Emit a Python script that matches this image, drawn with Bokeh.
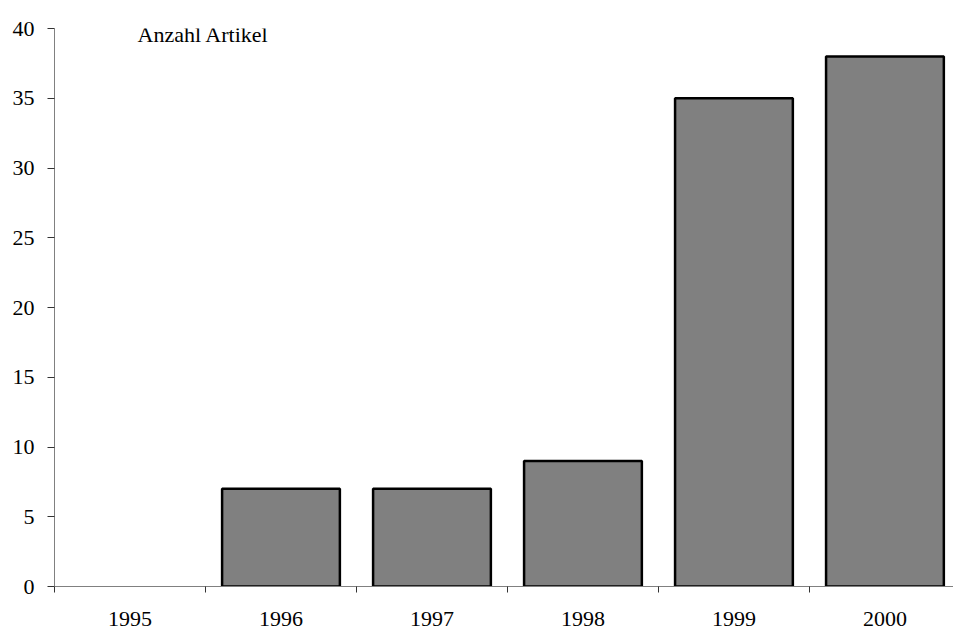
from bokeh.plotting import figure
from bokeh.models import ColumnDataSource, CDSView, BooleanFilter, FixedTicker, Label, Range1d
from bokeh.embed import file_html
from bokeh.resources import INLINE

years = ["1995", "1996", "1997", "1998", "1999", "2000"]
counts = [0, 7, 7, 9, 35, 38]
y_ticks = [0, 5, 10, 15, 20, 25, 30, 35, 40]
y_label = "Anzahl Artikel"

xs = list(range(len(years)))
src = ColumnDataSource(dict(x=xs, count=counts, year=years))
view = CDSView(filter=BooleanFilter([c > 0 for c in counts]))

FONT = "Liberation Serif"
FS = "22px"

p = figure(width=953, height=631,
           x_range=Range1d(-0.5, 5.454), y_range=Range1d(0, 40),
           output_backend="svg", toolbar_location=None,
           min_border_left=54, min_border_right=0,
           min_border_top=28, min_border_bottom=45)

p.vbar(x="x", top="count", width=0.78, source=src, view=view,
       fill_color="#808080", line_color="black", line_width=2.5)

p.xgrid.visible = False
p.ygrid.visible = False
p.outline_line_color = None
p.background_fill_color = "white"
p.border_fill_color = "white"

xa = p.xaxis[0]
xa.ticker = FixedTicker(ticks=xs, minor_ticks=[i - 0.5 for i in range(len(years) + 1)])
xa.major_label_overrides = {i: y for i, y in enumerate(years)}
xa.major_tick_out = 0
xa.major_tick_in = 0
xa.minor_tick_out = 6
xa.minor_tick_in = 0
xa.minor_tick_line_color = "#333333"
xa.axis_line_color = "#808080"
xa.major_label_standoff = 19
xa.major_label_text_font = FONT
xa.major_label_text_font_size = FS
xa.major_label_text_color = "black"

ya = p.yaxis[0]
ya.ticker = FixedTicker(ticks=y_ticks, minor_ticks=[])
ya.major_tick_out = 7
ya.major_tick_in = 0
ya.major_tick_line_color = "#333333"
ya.minor_tick_line_color = None
ya.axis_line_color = "#808080"
ya.major_label_standoff = 13
ya.major_label_text_font = FONT
ya.major_label_text_font_size = FS
ya.major_label_text_color = "black"

p.add_layout(Label(x=0.05, y=39.59, text=y_label, text_font=FONT,
                   text_font_size=FS, text_baseline="alphabetic",
                   text_color="black"))

open("out.html", "w").write(file_html(p, INLINE))
